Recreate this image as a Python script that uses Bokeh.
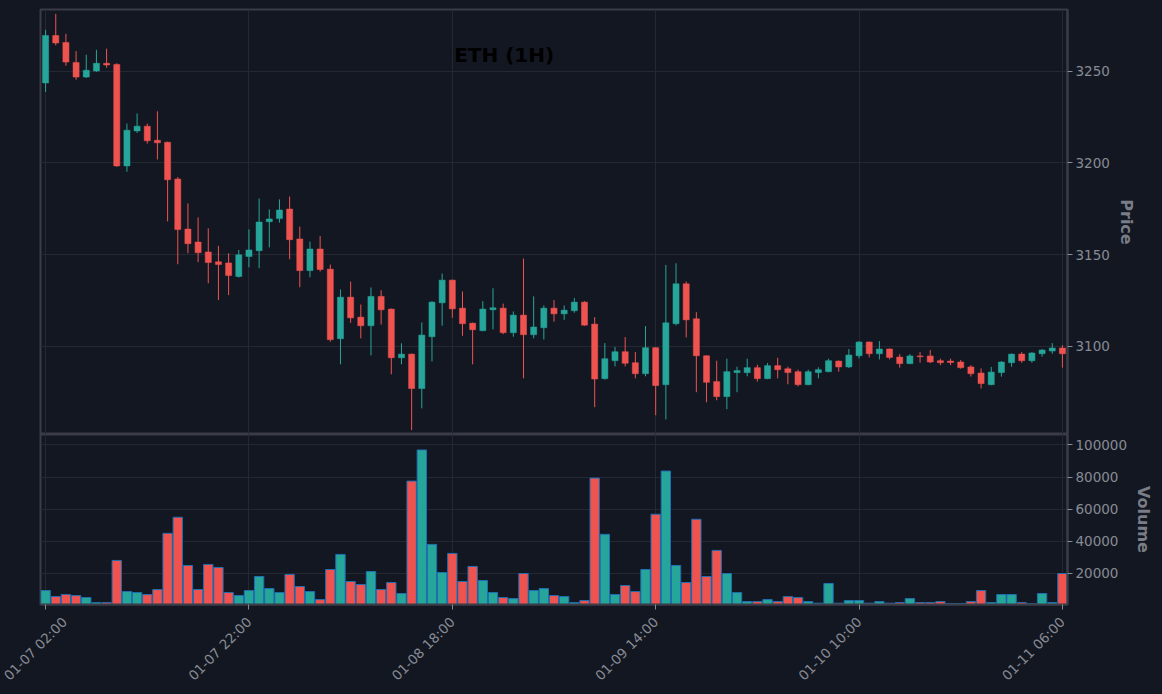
import math
from bokeh.plotting import figure
from bokeh.layouts import column
from bokeh.models import (ColumnDataSource, Range1d, FixedTicker, Label,
                          BasicTickFormatter)
from bokeh.embed import file_html
from bokeh.resources import INLINE

# ---------------- data ----------------
opens = [3243.7, 3269.6, 3265.8, 3254.9, 3246.9, 3250.2, 3254.4, 3253.8, 3198.4, 3217.5,
         3220.1, 3212.4, 3211.3, 3191.2, 3163.9, 3156.8, 3151.4, 3146.0, 3145.4, 3138.0,
         3148.9, 3152.1, 3167.9, 3169.6, 3174.8, 3158.5, 3141.2, 3153.0, 3142.0, 3104.0,
         3126.7, 3115.8, 3111.1, 3127.1, 3120.2, 3093.6, 3095.6, 3076.8, 3105.1, 3123.6,
         3136.0, 3120.7, 3112.5, 3108.4, 3119.8, 3120.7, 3107.3, 3116.9, 3106.2, 3110.0,
         3120.7, 3117.6, 3119.3, 3124.0, 3112.0, 3082.2, 3092.0, 3096.9, 3090.9, 3084.9,
         3099.1, 3078.9, 3112.2, 3134.0, 3114.9, 3094.7, 3080.6, 3072.4, 3085.5, 3085.5,
         3088.2, 3082.2, 3089.3, 3087.6, 3086.0, 3078.9, 3085.5, 3086.0, 3091.8, 3088.6,
         3094.7, 3102.2, 3095.8, 3098.4, 3094.0, 3090.4, 3094.6, 3094.6, 3092.0, 3091.8,
         3091.3, 3088.6, 3085.3, 3078.9, 3085.5, 3090.9, 3095.6, 3092.0, 3095.8, 3097.3,
         3098.9]
highs = [3272.7, 3281.4, 3270.5, 3261.1, 3259.1, 3261.8, 3262.4, 3254.4, 3221.5, 3227.0,
         3221.5, 3228.2, 3211.6, 3192.3, 3177.9, 3170.3, 3164.3, 3154.7, 3150.7, 3152.5,
         3163.7, 3180.6, 3174.6, 3180.1, 3181.7, 3165.2, 3157.0, 3160.1, 3144.5, 3130.9,
         3135.2, 3122.7, 3132.0, 3130.5, 3120.5, 3101.5, 3095.9, 3112.9, 3124.5, 3139.6,
         3136.3, 3129.8, 3112.8, 3124.5, 3131.6, 3123.2, 3118.9, 3147.8, 3127.1, 3122.2,
         3125.1, 3122.2, 3126.2, 3124.5, 3115.8, 3101.6, 3099.5, 3104.9, 3096.7, 3110.9,
         3099.5, 3144.3, 3145.2, 3135.2, 3118.5, 3095.0, 3092.0, 3093.1, 3088.7, 3093.1,
         3089.8, 3090.7, 3093.6, 3088.7, 3087.1, 3087.1, 3088.4, 3093.1, 3092.1, 3098.4,
         3102.7, 3102.5, 3102.7, 3098.7, 3095.6, 3095.6, 3096.7, 3097.8, 3093.1, 3093.1,
         3092.4, 3089.6, 3087.8, 3088.6, 3091.8, 3095.9, 3096.7, 3096.7, 3098.4, 3101.6,
         3100.5]
lows = [3238.8, 3264.2, 3253.1, 3245.5, 3246.4, 3249.7, 3252.0, 3197.9, 3195.2, 3216.4,
        3210.6, 3201.9, 3168.1, 3144.7, 3150.7, 3145.8, 3134.3, 3125.1, 3127.8, 3137.4,
        3143.0, 3142.5, 3153.9, 3167.4, 3147.4, 3132.1, 3137.6, 3140.7, 3102.4, 3090.0,
        3112.7, 3104.2, 3094.9, 3111.8, 3084.6, 3090.0, 3054.1, 3066.0, 3091.6, 3111.1,
        3115.4, 3105.6, 3090.0, 3108.1, 3109.1, 3106.5, 3105.1, 3082.4, 3104.2, 3103.6,
        3113.3, 3114.3, 3118.2, 3111.1, 3066.6, 3081.7, 3088.9, 3088.9, 3082.4, 3083.5,
        3062.2, 3060.0, 3111.3, 3104.7, 3074.8, 3069.3, 3070.4, 3065.5, 3074.8, 3083.5,
        3080.6, 3081.9, 3082.4, 3079.1, 3078.0, 3078.6, 3082.4, 3085.7, 3086.0, 3088.0,
        3093.3, 3093.8, 3092.7, 3092.7, 3088.2, 3090.1, 3090.9, 3090.7, 3089.6, 3089.6,
        3087.6, 3083.3, 3076.8, 3078.6, 3083.3, 3088.7, 3090.9, 3090.9, 3094.2, 3095.8,
        3088.2]
closes = [3269.6, 3265.5, 3255.1, 3246.9, 3250.6, 3254.4, 3253.5, 3198.4, 3217.9, 3220.1,
          3212.1, 3211.0, 3190.8, 3163.6, 3155.9, 3151.0, 3145.6, 3144.5, 3138.5, 3149.8,
          3152.5, 3167.7, 3169.4, 3174.3, 3158.1, 3141.2, 3153.0, 3141.8, 3103.5, 3126.7,
          3115.4, 3111.1, 3127.1, 3119.8, 3093.6, 3095.6, 3076.8, 3106.0, 3124.0, 3136.0,
          3120.3, 3112.2, 3108.9, 3120.2, 3120.9, 3107.3, 3116.9, 3106.2, 3110.4, 3120.7,
          3117.6, 3119.6, 3124.0, 3111.4, 3082.0, 3093.1, 3096.9, 3090.6, 3084.9, 3099.1,
          3078.4, 3112.7, 3134.0, 3114.3, 3094.7, 3080.2, 3072.4, 3086.0, 3086.6, 3088.2,
          3082.2, 3089.3, 3087.1, 3085.5, 3078.9, 3086.0, 3087.1, 3092.0, 3088.6, 3095.1,
          3102.2, 3095.8, 3098.4, 3093.8, 3090.4, 3094.6, 3094.2, 3091.3, 3090.9, 3091.0,
          3088.2, 3084.9, 3079.5, 3085.8, 3091.3, 3095.6, 3092.0, 3096.2, 3097.8, 3098.9,
          3095.8]
volumes = [9375, 5625, 6875, 6250, 5000, 1875, 1875, 28125, 8750, 8125,
           6875, 10000, 45000, 55000, 25000, 10000, 25625, 23750, 8125, 6250,
           9375, 18125, 10625, 8125, 19375, 11875, 8750, 3750, 22500, 31875,
           15000, 13125, 21250, 10000, 14375, 7500, 77500, 96875, 38125, 20625,
           32500, 15000, 24375, 15625, 8125, 5000, 4375, 20000, 9375, 10625,
           6250, 5625, 1875, 3125, 79375, 44375, 6875, 12500, 8750, 22500,
           56875, 83750, 25000, 14375, 53750, 18125, 34375, 20000, 8125, 2500,
           2500, 3750, 2500, 5625, 5000, 2500, 1500, 13750, 1500, 3125,
           3125, 1500, 2500, 1500, 1875, 4375, 1875, 1875, 2500, 1300,
           1300, 2500, 9375, 1875, 6875, 6875, 1875, 1200, 7500, 1875,
           20000]
x_tick_positions = [0, 20, 40, 60, 80, 100]
x_tick_labels = ["01-07 02:00", "01-07 22:00", "01-08 18:00",
                 "01-09 14:00", "01-10 10:00", "01-11 06:00"]
price_ticks = [3100, 3150, 3200, 3250]
volume_ticks = [20000, 40000, 60000, 80000, 100000]
title_text = "ETH (1H)"

# ---------------- styles ----------------
FONT = "DejaVu Sans"
BG = "#131722"
GREEN = "#26a69a"
RED = "#ef5350"
GRID = "#242833"
OUTLINE = "#3a3d47"
TICK_TXT = "#878b94"
AXLBL = "#7a7d86"

n = len(opens)
idx = list(range(n))
colors = [GREEN if c >= o else RED for o, c in zip(opens, closes)]
src = ColumnDataSource(dict(
    x=idx, open=opens, high=highs, low=lows, close=closes,
    top=[max(o, c) for o, c in zip(opens, closes)],
    bottom=[min(o, c) for o, c in zip(opens, closes)],
    vol=volumes, color=colors,
))

xr = Range1d(-0.5, n - 0.5)


def style(p):
    p.background_fill_color = BG
    p.border_fill_color = BG
    p.outline_line_color = OUTLINE
    p.outline_line_width = 2
    p.xgrid.grid_line_color = GRID
    p.ygrid.grid_line_color = GRID
    p.xgrid.ticker = FixedTicker(ticks=x_tick_positions)


def style_y(ax, ticks, lbl):
    ax.ticker = FixedTicker(ticks=ticks)
    ax.axis_label = lbl
    ax.axis_label_text_font = FONT
    ax.axis_label_text_font_style = "bold"
    ax.axis_label_text_font_size = "16px"
    ax.axis_label_text_color = AXLBL
    ax.axis_label_standoff = 4
    ax.major_label_text_font = FONT
    ax.major_label_text_font_size = "13.5px"
    ax.major_label_text_color = TICK_TXT
    ax.major_label_standoff = 3
    ax.axis_line_color = OUTLINE
    ax.axis_line_width = 2
    ax.major_tick_line_color = TICK_TXT
    ax.major_tick_out = 5
    ax.major_tick_in = 0
    ax.minor_tick_line_color = None


p = figure(frame_width=1027, frame_height=425, x_range=xr,
           y_range=Range1d(3051.7, 3283.8), output_backend="svg",
           toolbar_location=None, y_axis_location="right",
           min_border_left=40, min_border_top=9, min_border_bottom=0)
style(p)
p.xaxis.visible = False
p.segment(x0="x", y0="low", x1="x", y1="high", color="color", line_width=1, source=src)
p.vbar(x="x", width=0.6, top="top", bottom="bottom", fill_color="color",
       line_color="color", line_width=0.5, source=src)
style_y(p.yaxis[0], price_ticks, "Price")
p.ygrid.ticker = FixedTicker(ticks=price_ticks)

p.add_layout(Label(x=45.1, y=3258.9, text=title_text, text_align="center",
                   text_baseline="middle", text_font=FONT, text_font_size="20px",
                   text_font_style="bold", text_color="#000000"))

v = figure(frame_width=1027, frame_height=170, x_range=xr,
           y_range=Range1d(700, 106500), output_backend="svg",
           toolbar_location=None, y_axis_location="right",
           min_border_left=40, min_border_top=0, min_border_bottom=2)
style(v)
v.vbar(x="x", width=0.92, top="vol", bottom=0, fill_color="color",
       line_color="#1f6fb4", line_width=1, source=src)
style_y(v.yaxis[0], volume_ticks, "Volume")
v.yaxis[0].formatter = BasicTickFormatter(use_scientific=False)
v.ygrid.ticker = FixedTicker(ticks=volume_ticks)

xa = v.xaxis[0]
xa.ticker = FixedTicker(ticks=x_tick_positions)
xa.major_label_overrides = {t: l for t, l in zip(x_tick_positions, x_tick_labels)}
xa.major_label_orientation = math.pi / 4
xa.major_label_text_font = FONT
xa.major_label_text_font_size = "13.5px"
xa.major_label_text_color = TICK_TXT
xa.major_label_standoff = 10
xa.axis_line_color = OUTLINE
xa.axis_line_width = 2
xa.major_tick_line_color = TICK_TXT
xa.major_tick_out = 5
xa.major_tick_in = 0
xa.minor_tick_line_color = None

layout = column(p, v, spacing=0)
layout.styles = {"background-color": BG}

html = file_html(layout, INLINE)
html = html.replace("</head>", "<style>html,body{background:%s;}</style></head>" % BG, 1)
open("out.html", "w").write(html)
